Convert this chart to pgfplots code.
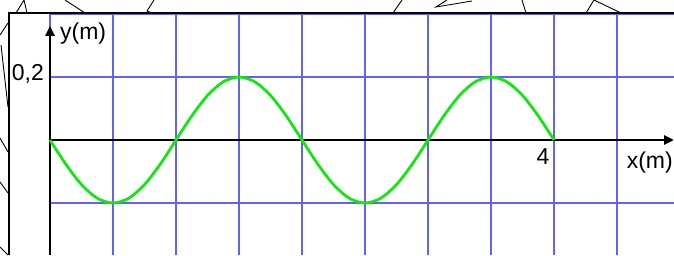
\documentclass[border=0pt]{standalone}
\usepackage{pgfplots}
\pgfplotsset{compat=1.18}
\usepackage{fontspec}
\setmainfont{Liberation Sans}
\usetikzlibrary{arrows.meta}
\definecolor{gridblue}{RGB}{100,100,235}
\definecolor{wavegreen}{RGB}{20,230,20}
\begin{document}
\begin{tikzpicture}[x=1pt,y=1pt]
\useasboundingbox (0,0) rectangle (674,255);
\begin{axis}[at={(0,0)},anchor=south west,scale only axis,
  width=674pt,height=255pt,
  xmin=-0.396825,xmax=4.952381,ymin=-0.365079,ymax=0.444444,
  hide axis,clip=false]
% grid
\pgfplotsinvokeforeach{0,0.5,1,1.5,2,2.5,3,3.5,4,4.5}{
  \draw[gridblue,line width=1.05pt] (axis cs:#1,-0.365079) -- (axis cs:#1,0.4);
}
\pgfplotsinvokeforeach{0.4,0.2,-0.2}{
  \draw[gridblue,line width=1.05pt] (axis cs:0,#1) -- (axis cs:4.952381,#1);
}
% axes
\draw[black,line width=2.8pt,-{Triangle[length=10pt,width=9pt]}] (axis cs:0,-0.365079) -- (axis cs:0,0.362);
\draw[black,line width=2.8pt,-{Triangle[length=10pt,width=9pt]}] (axis cs:0,0) -- (axis cs:4.952381,0);
% wave
\addplot[wavegreen,line width=2.8pt,smooth] coordinates {
(0,0) (0.125,-0.0765) (0.25,-0.1414) (0.375,-0.1848) (0.5,-0.2)
(0.625,-0.1848) (0.75,-0.1414) (0.875,-0.0765) (1,0)
(1.125,0.0765) (1.25,0.1414) (1.375,0.1848) (1.5,0.2)
(1.625,0.1848) (1.75,0.1414) (1.875,0.0765) (2,0)
(2.125,-0.0765) (2.25,-0.1414) (2.375,-0.1848) (2.5,-0.2)
(2.625,-0.1848) (2.75,-0.1414) (2.875,-0.0765) (3,0)
(3.125,0.0765) (3.25,0.1414) (3.375,0.1848) (3.5,0.2)
(3.625,0.1848) (3.75,0.1414) (3.875,0.0765) (4,0)
};
% labels
\node[anchor=west,font=\fontsize{23}{25}\selectfont,inner sep=0pt] at (axis cs:0.079,0.3365) {y(m)};
\node[anchor=east,font=\fontsize{23}{25}\selectfont,inner sep=0pt] at (axis cs:-0.0476,0.2095) {0,2};
\node[anchor=center,font=\fontsize{23}{25}\selectfont,inner sep=0pt] at (axis cs:3.913,-0.054) {4};
\node[anchor=east,font=\fontsize{23}{25}\selectfont,inner sep=0pt] at (axis cs:4.944,-0.073) {x(m)};
\end{axis}
% frame
\draw[black,line width=2.6pt] (9,0) -- (9,242) -- (674,242);
% decorative lines
\begin{scope}[black,line width=0.9pt]
\draw (16,242)--(24,255)--(27,242);
\draw (65,255)--(85,242);
\draw (154,255)--(147,244)--(152,242);
\draw (402,255)--(393,242);
\draw (447,255)--(436,248)--(472,254);
\draw (522,255)--(526,242);
\draw (586,242)--(594,255)--(621,242);
\draw (0,220)--(8,232);
\draw (1,210)--(8,148);
\draw (0,117)--(8,103);
\draw (0,73)--(8,62);
\draw (0,8)--(8,0);
\end{scope}
\end{tikzpicture}
\end{document}
